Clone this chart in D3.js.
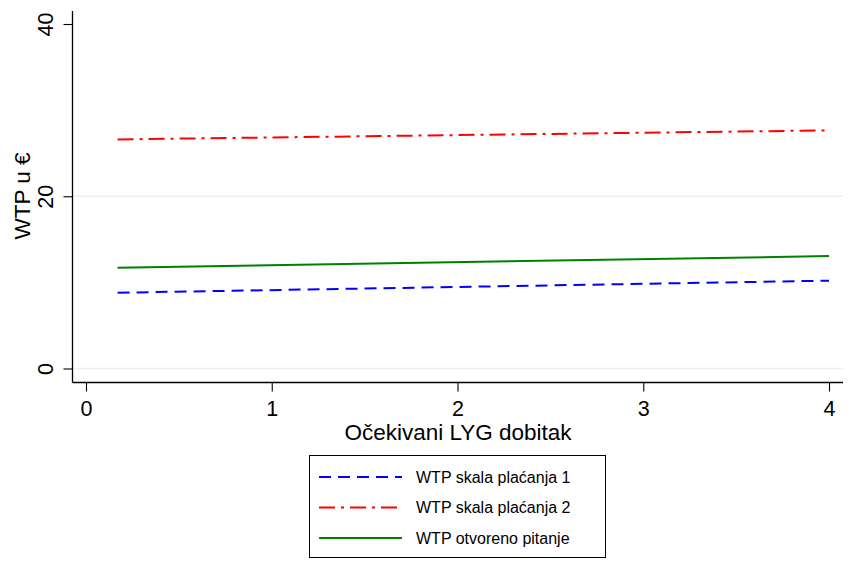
<!DOCTYPE html>
<html>
<head>
<meta charset="utf-8">
<script src="https://cdn.jsdelivr.net/npm/d3@7"></script>
<style>
  body { margin: 0; background: #fff; }
  text { font-family: "Liberation Sans", Arial, sans-serif; fill: #000; }
</style>
</head>
<body>
<div id="chart"></div>
<script>
// Data
var lygValues = [0.17, 4];
var seriesNames = ["WTP skala plaćanja 1", "WTP skala plaćanja 2", "WTP otvoreno pitanje"];
var wtpScale1 = [8.8, 10.2];
var wtpScale2 = [26.6, 27.65];
var wtpOpen = [11.7, 13.05];
var xTicks = [0, 1, 2, 3, 4];
var yTicks = [0, 20, 40];

var svgWidth = 855;
var svgHeight = 583;

var svg = d3.select("#chart")
    .append("svg")
    .attr("width", svgWidth)
    .attr("height", svgHeight);

// scales (pixel ranges matched to the reference)
var xScale = d3.scaleLinear().domain([0, 4]).range([86, 829]);
var yScale = d3.scaleLinear().domain([0, 40]).range([368.5, 24]);

var plotLeft = 72.5, plotRight = 843, plotTop = 11, plotBottom = 382.5;

// gridlines at 0 and 20
svg.append("g").selectAll("line")
    .data([0, 20])
    .enter()
    .append("line")
    .attr("x1", plotLeft)
    .attr("x2", plotRight)
    .attr("y1", d => yScale(d))
    .attr("y2", d => yScale(d))
    .attr("stroke", "#eaf0f3")
    .attr("stroke-width", 1.5);

// y axis
var leftAxis = d3.axisLeft(yScale).tickValues(yTicks).tickSize(9).tickPadding(0).tickFormat(d3.format("d"));
var yAxis = svg.append("g")
    .attr("transform", `translate(${plotLeft},0)`)
    .call(leftAxis);
yAxis.select(".domain").attr("d", `M0,${plotTop}V${plotBottom}`).attr("stroke", "#000").attr("stroke-width", 1.3);
yAxis.selectAll(".tick line").attr("stroke", "#000").attr("stroke-width", 1.1);
yAxis.selectAll(".tick text")
    .attr("font-size", "21.5px")
    .attr("x", 0)
    .attr("dy", 0)
    .attr("text-anchor", "middle")
    .attr("transform", "translate(-19.5,0) rotate(-90)");

// x axis
var bottomAxis = d3.axisBottom(xScale).tickValues(xTicks).tickSize(9).tickPadding(0).tickFormat(d3.format("d"));
var xAxis = svg.append("g")
    .attr("transform", `translate(0,${plotBottom})`)
    .call(bottomAxis);
xAxis.select(".domain").attr("d", `M${plotLeft},0H${plotRight}`).attr("stroke", "#000").attr("stroke-width", 1.3);
xAxis.selectAll(".tick line").attr("stroke", "#000").attr("stroke-width", 1.1);
xAxis.selectAll(".tick text")
    .attr("font-size", "21.5px")
    .attr("y", 33)
    .attr("dy", 0);

// axis titles
svg.append("text")
    .attr("x", 458)
    .attr("y", 439.5)
    .attr("text-anchor", "middle")
    .attr("font-size", "22.5px")
    .text("Očekivani LYG dobitak");

svg.append("text")
    .attr("transform", "translate(30,196) rotate(-90)")
    .attr("text-anchor", "middle")
    .attr("font-size", "22.5px")
    .text("WTP u €");

// lines
var series = [
    { name: seriesNames[0], values: wtpScale1, color: "#0000ff", dash: "12,7" },
    { name: seriesNames[1], values: wtpScale2, color: "#ff0000", dash: "16,6,3,6" },
    { name: seriesNames[2], values: wtpOpen, color: "#008000", dash: null }
];

var line = d3.line()
    .x((d, i) => xScale(lygValues[i]))
    .y(d => yScale(d));

svg.append("g").selectAll("path")
    .data(series)
    .enter()
    .append("path")
    .attr("d", d => line(d.values))
    .attr("fill", "none")
    .attr("stroke", d => d.color)
    .attr("stroke-width", 2)
    .attr("stroke-dasharray", d => d.dash);

// legend
var legend = svg.append("g");
legend.append("rect")
    .attr("x", 309.5)
    .attr("y", 455.5)
    .attr("width", 296)
    .attr("height", 102)
    .attr("fill", "#fff")
    .attr("stroke", "#000")
    .attr("stroke-width", 1);

var rows = legend.selectAll("g.row")
    .data(series)
    .enter()
    .append("g")
    .attr("transform", (d, i) => `translate(0,${477 + i * 30.5})`);

rows.append("line")
    .attr("x1", 319)
    .attr("x2", 402)
    .attr("y1", 0)
    .attr("y2", 0)
    .attr("stroke", d => d.color)
    .attr("stroke-width", 2)
    .attr("stroke-dasharray", d => d.dash);

rows.append("text")
    .attr("x", 416)
    .attr("y", 5.5)
    .attr("font-size", "16px")
    .text(d => d.name);
</script>
</body>
</html>
